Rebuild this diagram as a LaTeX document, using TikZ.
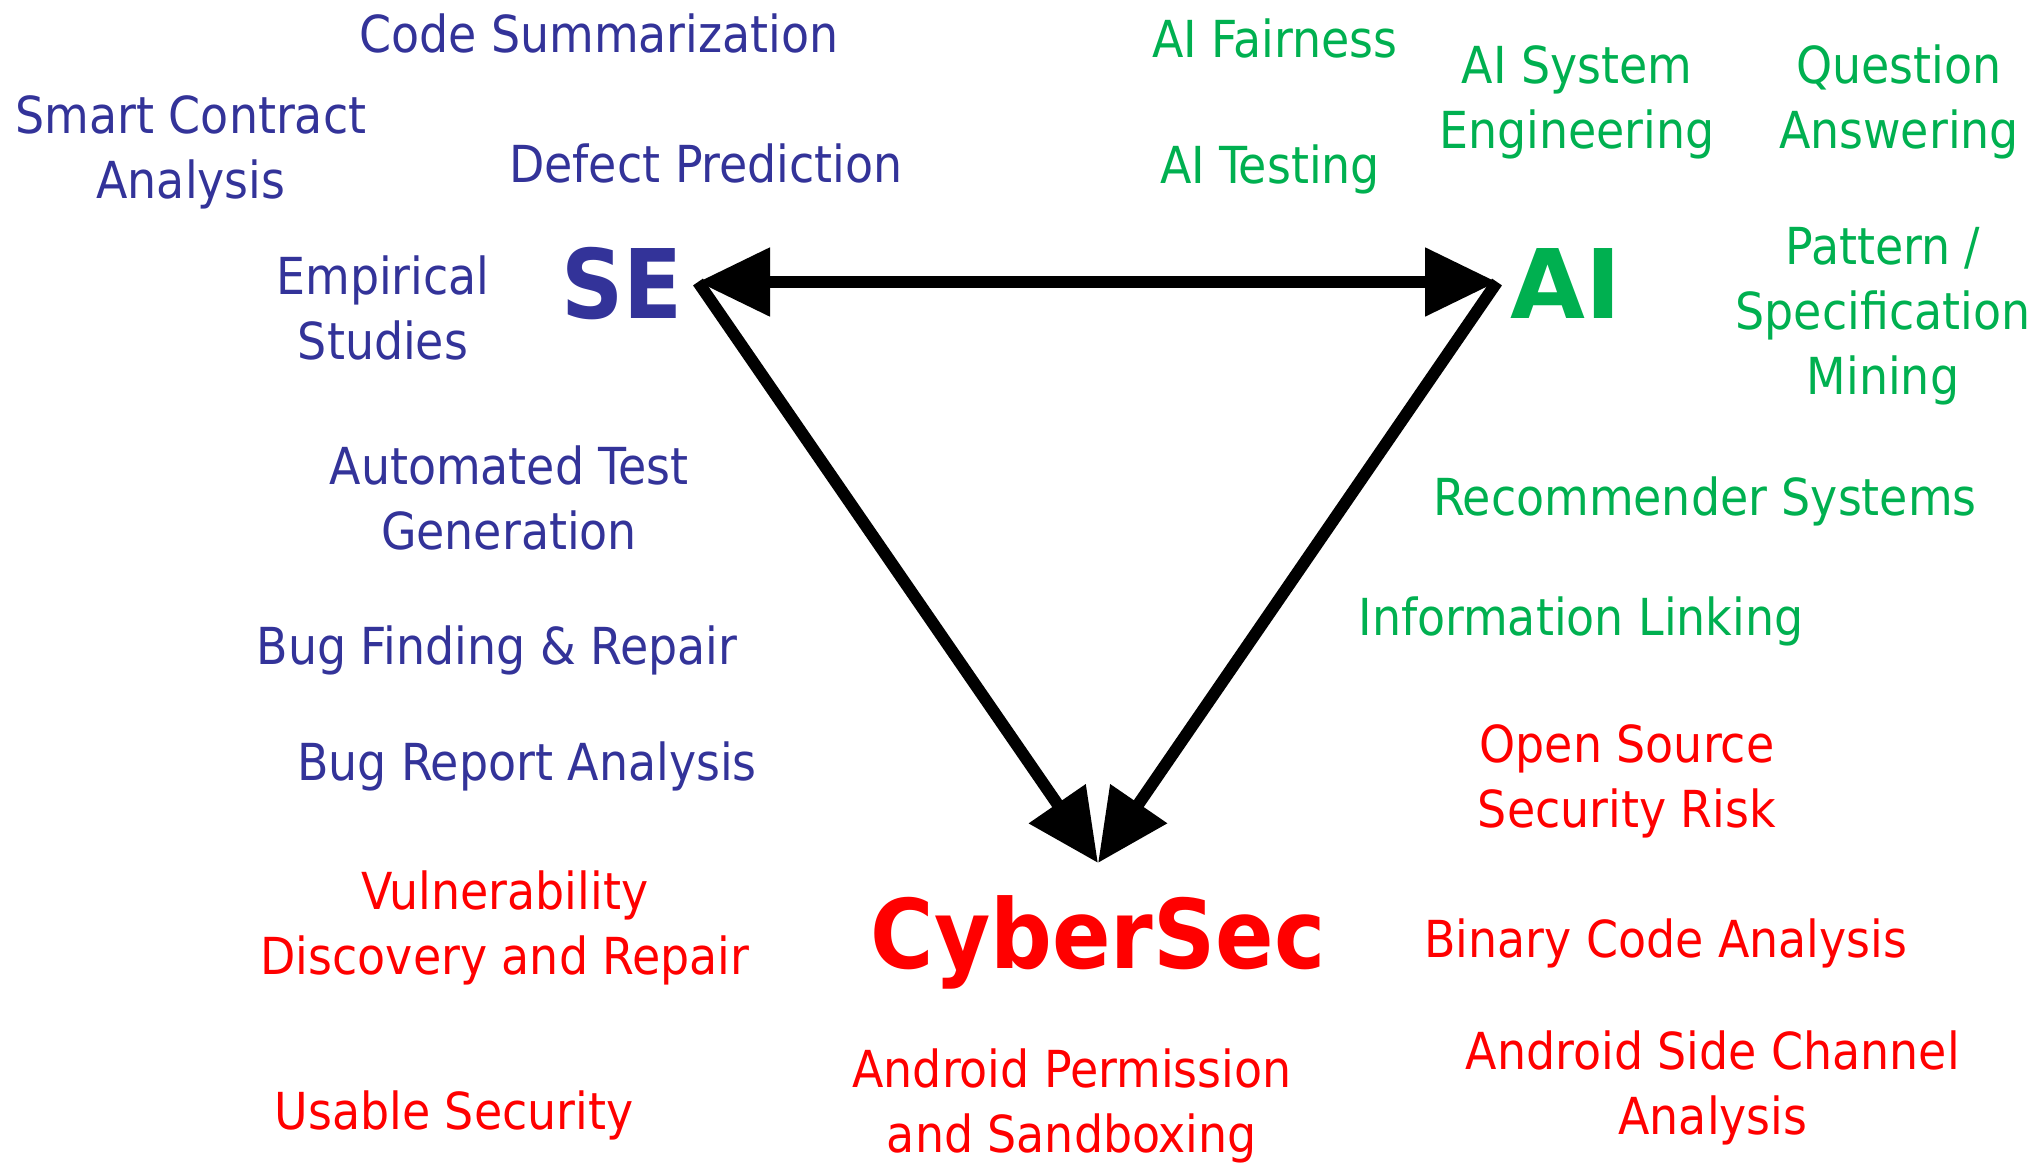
\documentclass[tikz,border=0pt]{standalone}
\usepackage{fontspec}
\setmainfont{DejaVu Sans Condensed}
\usetikzlibrary{arrows.meta}
\definecolor{seblue}{RGB}{51,51,153}
\definecolor{aigreen}{RGB}{0,176,80}
\definecolor{secred}{RGB}{255,0,0}
\tikzset{bigtip/.tip={Triangle[length=72pt, width=66pt]}}
\begin{document}
\begin{tikzpicture}[x=1pt,y=-1pt,
  topic/.style={inner sep=0pt, anchor=base, align=center,
    font=\fontsize{51}{65}\selectfont},
  setopic/.style={topic, text=seblue},
  aitopic/.style={topic, text=aigreen},
  sectopic/.style={topic, text=secred},
  field/.style={inner sep=0pt, anchor=base, font=\fontsize{96}{110}\selectfont\bfseries},
  link/.style={line width=12pt, draw=black}]
\useasboundingbox (0,0) rectangle (2042,1162);

% the three fields
\node[field, text=seblue]  (se)  at (622,318) {SE};
\node[field, text=aigreen, xscale=1.12] (ai) at (1566,318) {AI};
\node[field, text=secred]  (cs)  at (1098,968) {CyberSec};

% corners of the triangle
\coordinate (seV) at (698,282);
\coordinate (aiV) at (1497,282);
\coordinate (csV) at (1098,863);

\draw[link, bigtip-bigtip] (seV) -- (aiV);
\draw[link, -bigtip] (seV) -- (csV);
\draw[link, -bigtip] (aiV) -- (csV);

% topic labels; a multi-line label sits on the baseline of its last line

% software engineering topics
\node[setopic] (cs1) at (599,52)  {Code Summarization};
\node[setopic] (sc)  at (191,198) {Smart Contract\\Analysis};
\node[setopic] (dp)  at (706,182) {Defect Prediction};
\node[setopic] (es)  at (383,359) {Empirical\\Studies};
\node[setopic] (atg) at (509,549) {Automated Test\\Generation};
\node[setopic] (bfr) at (497,664) {Bug Finding \& Repair};
\node[setopic] (bra) at (527,780) {Bug Report Analysis};

% AI topics
\node[aitopic] (af)  at (1275,57)  {AI Fairness};
\node[aitopic] (at)  at (1270,183) {AI Testing};
\node[aitopic] (ase) at (1577,148) {AI System\\Engineering};
\node[aitopic] (qa)  at (1899,148) {Question\\Answering};
\node[aitopic] (psm) at (1883,394) {Pattern /\\Specification\\Mining};
\node[aitopic] (rs)  at (1705,515) {Recommender Systems};
\node[aitopic] (il)  at (1581,635) {Information Linking};

% security topics
\node[sectopic] (vdr) at (505,974)  {Vulnerability\\Discovery and Repair};
\node[sectopic] (us)  at (454,1129) {Usable Security};
\node[sectopic] (aps) at (1072,1152) {Android Permission\\and Sandboxing};
\node[sectopic] (oss) at (1627,827) {Open Source\\Security Risk};
\node[sectopic] (bca) at (1666,957) {Binary Code Analysis};
\node[sectopic] (asc) at (1713,1134) {Android Side Channel\\Analysis};
\end{tikzpicture}
\end{document}
